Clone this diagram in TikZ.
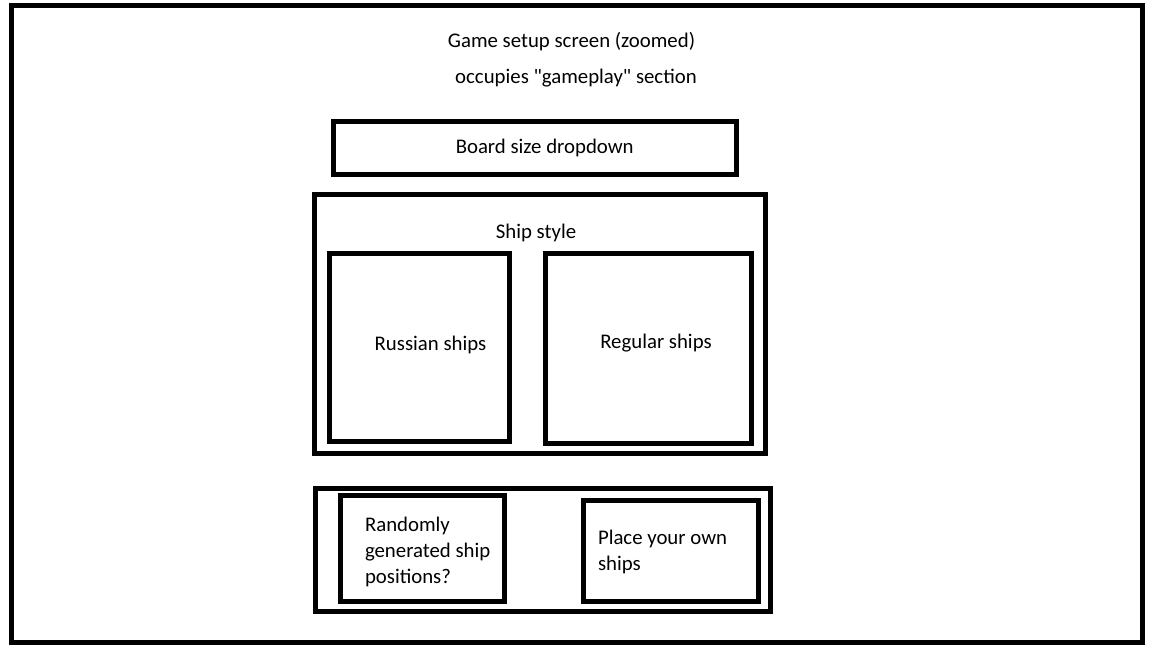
\documentclass[tikz,border=0pt]{standalone}
\usepackage{fontspec}
\setmainfont{Carlito}
\usetikzlibrary{positioning}

\begin{document}
\begin{tikzpicture}[
  x=1pt, y=-1pt,
  every node/.style={font=\fontsize{20.8}{26}\selectfont, inner sep=0pt, outer sep=0pt},
  wirebox/.style={draw, line width=5pt, rectangle},
  label/.style={anchor=base},
  leftlabel/.style={anchor=base west, align=left},
]
  \useasboundingbox (0,0) rectangle (1152,648);
  % Screen frame
  \node[wirebox,minimum width=1131pt,minimum height=637pt] (screen) at (577,324) {};
  % Title
  \node[label] (title) at (571.5,47.5) {Game setup screen (zoomed)};
  \node[label] (subtitle) at (576,83) {occupies \textquotedbl gameplay\textquotedbl{} section};
  % Board size
  \node[wirebox,minimum width=403pt,minimum height=52.5pt] (board) at (535.2,148) {};
  \node[label] (boardtext) at (544.7,153.5) {Board size dropdown};
  % Ship style
  \node[wirebox,minimum width=451pt,minimum height=258.4pt] (style) at (539.9,324) {};
  \node[label] (styletext) at (536,238.5) {Ship style};
  \node[wirebox,minimum width=180pt,minimum height=187.8pt] (russian) at (419.3,347.4) {};
  \node[label] (russiantext) at (430.5,350) {Russian ships};
  \node[wirebox,minimum width=205.5pt,minimum height=190pt] (regular) at (648.3,348.5) {};
  \node[label] (regulartext) at (656,348) {Regular ships};
  % Placement
  \node[wirebox,minimum width=455pt,minimum height=123pt] (placement) at (543,550) {};
  \node[wirebox,minimum width=163.5pt,minimum height=106pt] (random) at (422.3,548.5) {};
  \node[leftlabel] (randomtext) at (365,583) {Randomly\\generated ship\\positions?};
  \node[wirebox,minimum width=174.8pt,minimum height=101.5pt] (own) at (670.9,550.8) {};
  \node[leftlabel] (owntext) at (598,570) {Place your own\\ships};
\end{tikzpicture}
\end{document}
